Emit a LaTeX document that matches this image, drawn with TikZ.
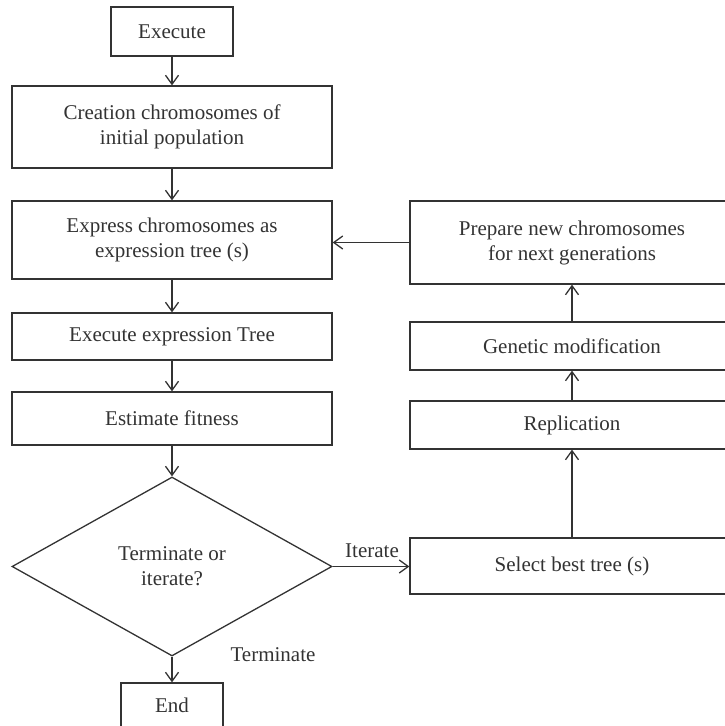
\documentclass[tikz,border=0pt]{standalone}
\usepackage{fontspec}
\setmainfont{Liberation Serif}
\usetikzlibrary{shapes.geometric,arrows.meta,positioning}
\definecolor{ink}{HTML}{333333}

\begin{document}
\begin{tikzpicture}
	[x=1pt,y=-1pt,line width=1.3pt,color=ink,
	every node/.style={font=\fontsize{21}{25}\selectfont,align=center,inner sep=0pt},
	box/.style={draw,rectangle},
	decide/.style={draw,diamond,aspect=1.8,minimum width=320pt,minimum height=179pt},
	arr/.style={-{Straight Barb[length=9pt,width=13pt]}}]
	\useasboundingbox (0,0) rectangle (725,726);
	\clip (0,0) rectangle (725,726);
	% main column
	\node[box,minimum width=122pt,minimum height=49pt] (start) at (172,31.5) {Execute};
	\node[box,minimum width=320pt,minimum height=82pt] (create) at (172,127) {Creation chromosomes of\\initial population};
	\node[box,minimum width=320pt,minimum height=78pt] (express) at (172,240) {Express chromosomes as\\expression tree (s)};
	\node[box,minimum width=320pt,minimum height=47pt] (run) at (172,336.5) {Execute expression Tree};
	\node[box,minimum width=320pt,minimum height=53pt] (fitness) at (172,418.5) {Estimate fitness};
	\node[decide] (choice) at (172,566.5) {Terminate or\\iterate?};
	\node[box,minimum width=102pt,minimum height=44pt] (stop) at (172,705) {End};
	% loop column
	\node[box,minimum width=324pt,minimum height=83pt] (prepare) at (572,242.5) {Prepare new chromosomes\\for next generations};
	\node[box,minimum width=324pt,minimum height=48pt] (modify) at (572,346) {Genetic modification};
	\node[box,minimum width=324pt,minimum height=48pt] (copy) at (572,425) {Replication};
	\node[box,minimum width=324pt,minimum height=56pt] (select) at (572,566) {Select best tree (s)};
	% labels
	\node (iterLabel) at (372,551) {Iterate};
	\node (termLabel) at (273,655) {Terminate};
	\path
	\foreach \startNode/\endNode in {start/create,create/express,express/run,run/fitness,
		fitness/choice,choice/stop,select/copy,copy/modify,modify/prepare}
	{
		(\startNode) edge[arr] (\endNode)
	};
	\draw[arr] (prepare.west) -- (express.east |- prepare.west);
	\draw[arr] (choice.east) -- (select.west |- choice.east);
\end{tikzpicture}
\end{document}
